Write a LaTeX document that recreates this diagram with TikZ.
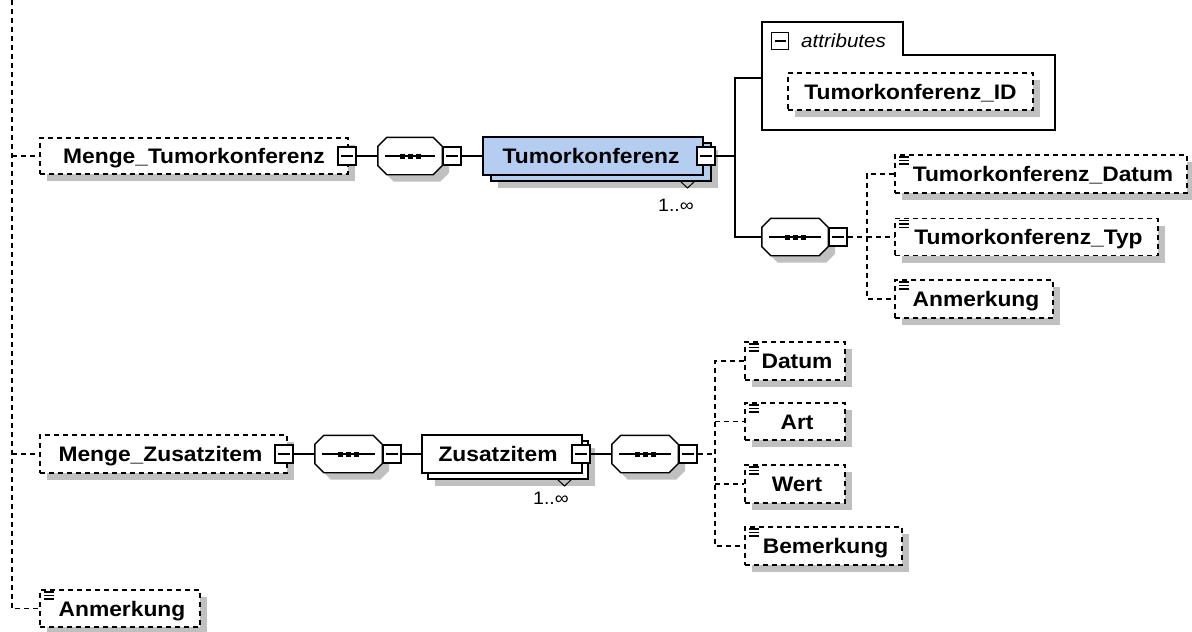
\documentclass[tikz,border=0pt]{standalone}
\usepackage{fontspec}
\setmainfont{Liberation Sans}[FakeStretch=1.085]
\usetikzlibrary{shadows}
\definecolor{selblue}{RGB}{180,205,240}
\definecolor{shadowgray}{RGB}{192,192,192}
\tikzset{
  shad/.style={drop shadow={shadow xshift=7pt, shadow yshift=-7pt, fill=shadowgray, opacity=1}},
  dashline/.style={line width=1.3pt, dash pattern=on 5pt off 4pt},
  conn/.style={line width=1.3pt},
  lblfont/.style={font=\fontsize{21}{24}\selectfont\bfseries, text height=17pt, text depth=2pt},
  elem/.style={draw, dashline, fill=white, shad, inner sep=0pt, lblfont},
  cplx/.style={draw, line width=1.4pt, inner sep=0pt, lblfont},
  expander/.style={draw, fill=white, line width=1.3pt, minimum size=18pt, inner sep=0pt,
    path picture={\draw[line width=1.2pt] ([xshift=3pt]path picture bounding box.west) -- ([xshift=-3pt]path picture bounding box.east);}},
  seqn/.style={inner sep=0pt, minimum height=37pt},
  multlbl/.style={font=\fontsize{18}{20}\selectfont, inner sep=0pt},
}
\newcommand{\octseq}[4]{%
  \node[seqn, minimum width=#4pt] (#1) at (#2,#3) {};
  \draw[line width=1.4pt, fill=white, shad]
    ([xshift=9pt]#1.north west) -- ([xshift=-9pt]#1.north east) -- ([yshift=-9pt]#1.north east)
    -- ([yshift=9pt]#1.south east) -- ([xshift=-9pt]#1.south east) -- ([xshift=9pt]#1.south west)
    -- ([yshift=9pt]#1.south west) -- ([yshift=-9pt]#1.north west) -- cycle;
  \draw[line width=1.2pt] ([xshift=7pt]#1.west) -- ([xshift=-7pt]#1.east);
  \foreach \dx in {-10.5,-2.5,5.5} {\fill ([xshift=\dx pt, yshift=-2.5pt]#1.center) rectangle ++(5pt,5pt);}
}
\newcommand{\listicon}[1]{%
  \foreach \dy in {-2.5,-6,-9.5} {\draw[line width=1.5pt] ([xshift=5pt, yshift=\dy pt]#1.north west) -- ++(10,0);}
}
\begin{document}
\begin{tikzpicture}[x=1pt, y=-1pt]
\useasboundingbox (0,0) rectangle (1192,632);

% ---------- row 1 ----------
\node[elem, minimum width=308pt, minimum height=36pt] (mt) at (194,156) {Menge\_Tumorkonferenz};
\node[expander] (mtx) at (347,156) {};
\octseq{s1}{410}{156}{64}
\node[expander, anchor=west] (s1x) at (s1.east) {};
\node[cplx, fill=selblue, shad, minimum width=220pt, minimum height=38pt] (tkb) at (601,162) {};
\node[cplx, fill=selblue, minimum width=220pt, minimum height=38pt] (tk) at (593,156) {Tumorkonferenz\hspace*{4pt}};
\node[expander] (tkx) at (706,156) {};
\draw[line width=1pt] (680,181) -- (687.5,188) -- (695,181);
\node[multlbl] (m1) at (676,205) {1..∞};

% attributes
\draw[line width=1.4pt] (762,22) -- (903,22) -- (903,55) -- (1055,55) -- (1055,130) -- (762,130) -- cycle;
\node[expander, minimum size=17pt] (attrx) at (780,41) {};
\node[font=\fontsize{19}{22}\selectfont\itshape, anchor=west, inner sep=0pt] (attrlbl) at (801,41) {attributes};
\node[elem, minimum width=245pt, minimum height=37pt] (tid) at (910.5,91.5) {Tumorkonferenz\_ID};
\coordinate (attrIn) at (762,78);
\coordinate (j1) at (735,156);

\octseq{s2}{795}{237}{66}
\node[expander, anchor=west] (s2x) at (s2.east) {};
\coordinate (j2) at (867,237);
\node[elem, minimum width=292pt, minimum height=38pt] (d1) at (1041,174) {\hspace*{4pt}Tumorkonferenz\_Datum};
\node[elem, minimum width=263pt, minimum height=37pt] (d2) at (1026.5,237) {\hspace*{4pt}Tumorkonferenz\_Typ};
\node[elem, minimum width=158pt, minimum height=38pt] (d3) at (974,299) {\hspace*{4pt}Anmerkung};
\listicon{d1}\listicon{d2}\listicon{d3}

% ---------- row 2 ----------
\node[elem, minimum width=247pt, minimum height=38pt] (mz) at (163.5,454) {Menge\_Zusatzitem\hspace*{6pt}};
\node[expander] (mzx) at (284,454) {};
\octseq{s3}{348.5}{454}{67}
\node[expander, anchor=west] (s3x) at (s3.east) {};
\node[cplx, fill=white, shad, minimum width=160pt, minimum height=38pt] (zib) at (508,460) {};
\node[cplx, fill=white, minimum width=160pt, minimum height=38pt] (zi) at (502,454) {Zusatzitem\hspace*{8pt}};
\node[expander] (zix) at (581,454) {};
\draw[line width=1pt] (557,479) -- (564.5,486) -- (572,479);
\node[multlbl] (m2) at (551,498) {1..∞};
\octseq{s4}{645}{454}{66}
\node[expander, anchor=west] (s4x) at (s4.east) {};
\coordinate (j3) at (715,454);
\node[elem, minimum width=100pt, minimum height=38pt] (z1) at (795,361) {\hspace*{4pt}Datum};
\node[elem, minimum width=100pt, minimum height=37pt] (z2) at (795,421.5) {\hspace*{4pt}Art};
\node[elem, minimum width=100pt, minimum height=38pt] (z3) at (795,484) {\hspace*{4pt}Wert};
\node[elem, minimum width=157pt, minimum height=38pt] (z4) at (823.5,546) {\hspace*{4pt}Bemerkung};
\listicon{z1}\listicon{z2}\listicon{z3}\listicon{z4}

% bottom
\node[elem, minimum width=160pt, minimum height=37pt] (a0) at (120,608.5) {\hspace*{4pt}Anmerkung};
\listicon{a0}

% ---------- connectors ----------
\coordinate (top) at (12,0);
\draw[dashline] (top) |- (a0.west);
\draw[dashline] (top |- mt.west) -- (mt.west);
\draw[dashline] (top |- mz.west) -- (mz.west);
\draw[conn] (mtx.east) -- (s1.west);
\draw[conn] (s1x.east) -- (tk.west);
\draw[conn] (tkx.east) -- (j1);
\draw[conn] (attrIn) -| (j1) |- (s2.west);
\draw[dashline] (s2x.east) -- (j2);
\draw[dashline] (d1.west) -| (j2) |- (d3.west);
\draw[dashline] (j2) -- (d2.west);
\draw[conn] (mzx.east) -- (s3.west);
\draw[conn] (s3x.east) -- (zi.west);
\draw[conn] (zix.east) -- (s4.west);
\draw[dashline] (s4x.east) -- (j3);
\draw[dashline] (z1.west) -| (j3) |- (z4.west);
\draw[dashline] (j3 |- z2.west) -- (z2.west);
\draw[dashline] (j3 |- z3.west) -- (z3.west);
\end{tikzpicture}
\end{document}
